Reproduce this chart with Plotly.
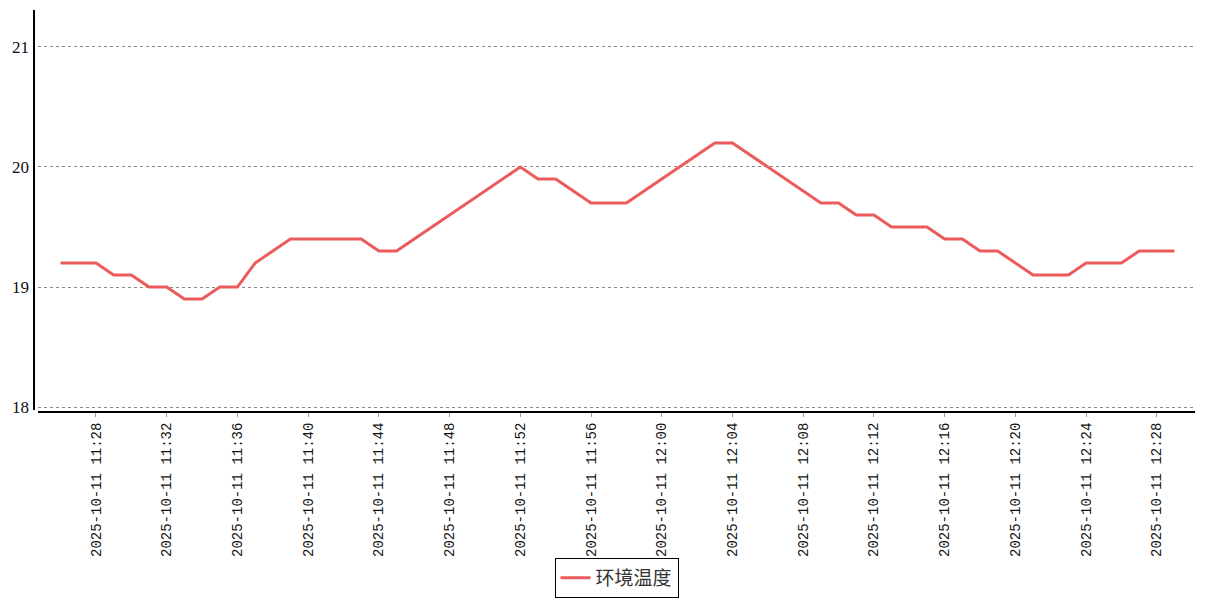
import plotly.graph_objects as go

date = "2025-10-11"
minutes = [
    "11:26", "11:27", "11:28", "11:29", "11:30", "11:31", "11:32", "11:33",
    "11:34", "11:35", "11:36", "11:37", "11:38", "11:39", "11:40", "11:41",
    "11:42", "11:43", "11:44", "11:45", "11:46", "11:47", "11:48", "11:49",
    "11:50", "11:51", "11:52", "11:53", "11:54", "11:55", "11:56", "11:57",
    "11:58", "11:59", "12:00", "12:01", "12:02", "12:03", "12:04", "12:05",
    "12:06", "12:07", "12:08", "12:09", "12:10", "12:11", "12:12", "12:13",
    "12:14", "12:15", "12:16", "12:17", "12:18", "12:19", "12:20", "12:21",
    "12:22", "12:23", "12:24", "12:25", "12:26", "12:27", "12:28", "12:29",
]
temperature = [
    19.2, 19.2, 19.2, 19.1, 19.1, 19.0, 19.0, 18.9,
    18.9, 19.0, 19.0, 19.2, 19.3, 19.4, 19.4, 19.4,
    19.4, 19.4, 19.3, 19.3, 19.4, 19.5, 19.6, 19.7,
    19.8, 19.9, 20.0, 19.9, 19.9, 19.8, 19.7, 19.7,
    19.7, 19.8, 19.9, 20.0, 20.1, 20.2, 20.2, 20.1,
    20.0, 19.9, 19.8, 19.7, 19.7, 19.6, 19.6, 19.5,
    19.5, 19.5, 19.4, 19.4, 19.3, 19.3, 19.2, 19.1,
    19.1, 19.1, 19.2, 19.2, 19.2, 19.3, 19.3, 19.3,
]
tick_minutes = ["11:28", "11:32", "11:36", "11:40", "11:44", "11:48", "11:52",
                "11:56", "12:00", "12:04", "12:08", "12:12", "12:16", "12:20",
                "12:24", "12:28"]
y_ticks = [18, 19, 20, 21]
series_name = "环境温度"

categories = [f"{date} {m}" for m in minutes]
tick_cats = [f"{date} {m}" for m in tick_minutes]

fig = go.Figure()
fig.add_trace(go.Scatter(
    x=categories, y=temperature, mode="lines", name=series_name,
    line=dict(color="#ec5b5b", width=3),
))

W, H = 1207, 600
ml, mr, mt, mb = 38, 12, 10, 189
pw = W - ml - mr
ph = H - mt - mb

fig.update_layout(
    width=W, height=H,
    margin=dict(l=ml, r=mr, t=mt, b=mb, autoexpand=False),
    paper_bgcolor="white", plot_bgcolor="white",
    showlegend=True,
    legend=dict(
        orientation="h", x=0.5, xanchor="center",
        y=-(598 - (H - mb)) / ph, yanchor="bottom",
        bordercolor="black", borderwidth=1,
        font=dict(family="Noto Sans CJK SC", size=19, color="#333"),
        itemwidth=30, tracegroupgap=0,
    ),
    xaxis=dict(
        type="category",
        range=[-1.28, 64.16],
        tickmode="array", tickvals=tick_cats, ticktext=tick_cats,
        tickangle=-90,
        ticks="outside", ticklen=4, tickcolor="#999",
        tickfont=dict(family="Liberation Mono", size=14, color="#111"),
        showline=True, linecolor="black", linewidth=2,
        showgrid=False, zeroline=False,
    ),
    yaxis=dict(
        range=[17.967, 21.308],
        tickmode="array", tickvals=y_ticks,
        ticks="", ticklabelstandoff=8,
        tickfont=dict(family="Liberation Serif", size=17, color="#111"),
        showline=False,
        showgrid=True, gridcolor="#888", gridwidth=1, griddash="dot",
        zeroline=False,
    ),
    shapes=[dict(
        type="line", xref="paper", yref="paper",
        x0=-4 / pw, x1=-4 / pw, y0=0.0025, y1=1.0,
        line=dict(color="black", width=2),
    )],
)

fig.write_html(
    "out.html",
    config={"displayModeBar": False},
    post_script="document.body.style.margin='0';document.body.style.padding='0';",
)
